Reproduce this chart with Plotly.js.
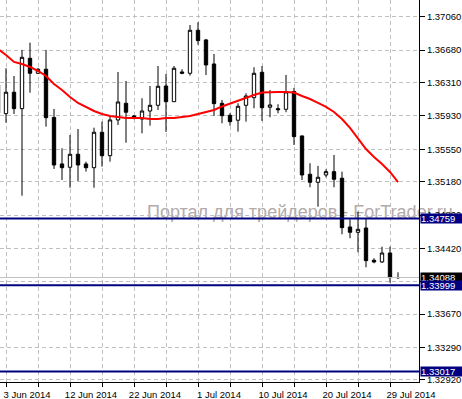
<!DOCTYPE html>
<html><head><meta charset="utf-8">
<script src="https://cdn.plot.ly/plotly-3.0.1.min.js"></script>
<style>html,body{margin:0;padding:0;background:#fff}#chart{width:462px;height:399px}</style>
</head><body><div id="chart"></div>
<script>
const dates = ['2014-06-02','2014-06-03','2014-06-04','2014-06-05','2014-06-06','2014-06-08','2014-06-09','2014-06-10','2014-06-11','2014-06-12','2014-06-13','2014-06-15','2014-06-16','2014-06-17','2014-06-18','2014-06-19','2014-06-20','2014-06-22','2014-06-23','2014-06-24','2014-06-25','2014-06-26','2014-06-27','2014-06-29','2014-06-30','2014-07-01','2014-07-02','2014-07-03','2014-07-04','2014-07-06','2014-07-07','2014-07-08','2014-07-09','2014-07-10','2014-07-11','2014-07-13','2014-07-14','2014-07-15','2014-07-16','2014-07-17','2014-07-18','2014-07-20','2014-07-21','2014-07-22','2014-07-23','2014-07-24','2014-07-25','2014-07-27','2014-07-28','2014-07-29','2014-07-30'];
const open  = [1.36282,1.35955,1.36199,1.36012,1.36586,1.36415,1.36461,1.35912,1.35382,1.35344,1.35492,1.35382,1.35339,1.35743,1.35476,1.35883,1.36073,1.35929,1.35894,1.35985,1.36050,1.36270,1.36091,1.36430,1.36415,1.36905,1.36795,1.36521,1.36073,1.35936,1.35880,1.36050,1.36137,1.36426,1.36028,1.36012,1.36005,1.36208,1.35701,1.35264,1.35173,1.35256,1.35294,1.35219,1.34664,1.34603,1.34652,1.34284,1.34265,1.34367,1.34086];
const high  = [1.36305,1.36472,1.36384,1.36681,1.36764,1.36475,1.36681,1.36008,1.35560,1.35712,1.35780,1.35408,1.35795,1.35864,1.35940,1.36430,1.36327,1.35937,1.36130,1.36270,1.36498,1.36407,1.36498,1.36461,1.36965,1.36996,1.36806,1.36635,1.36111,1.35959,1.36073,1.36187,1.36483,1.36498,1.36225,1.36062,1.36396,1.36248,1.35705,1.35390,1.35359,1.35321,1.35484,1.35294,1.34751,1.34838,1.34763,1.34307,1.34439,1.34439,1.34147];
const low   = [1.35940,1.35852,1.35951,1.35020,1.36194,1.36407,1.35807,1.35325,1.35199,1.35111,1.35188,1.35294,1.35111,1.35351,1.35408,1.35826,1.35624,1.35891,1.35731,1.35818,1.35997,1.35746,1.36088,1.36404,1.36388,1.36741,1.36396,1.35929,1.35845,1.35818,1.35750,1.35864,1.36016,1.35872,1.35914,1.35959,1.35971,1.35598,1.35199,1.35116,1.34895,1.35230,1.35116,1.34580,1.34535,1.34375,1.34204,1.34250,1.34253,1.34029,1.34071];
const close = [1.35963,1.36199,1.36012,1.36597,1.36415,1.36461,1.35909,1.35370,1.35339,1.35492,1.35370,1.35339,1.35743,1.35476,1.35883,1.36088,1.35971,1.35902,1.35985,1.36050,1.36267,1.36091,1.36472,1.36415,1.36905,1.36787,1.36510,1.36069,1.35932,1.35864,1.36039,1.36156,1.36415,1.36023,1.36054,1.36000,1.36202,1.35693,1.35256,1.35173,1.35230,1.35294,1.35207,1.34656,1.34603,1.34637,1.34280,1.34265,1.34367,1.34086,1.34088];
const maValues = [1.36692,1.36624,1.36544,1.36521,1.36487,1.36441,1.36384,1.36293,1.36225,1.36145,1.36077,1.36031,1.35985,1.35951,1.35929,1.35917,1.35906,1.35906,1.35906,1.35894,1.35894,1.35906,1.35906,1.35917,1.35929,1.35951,1.35974,1.35997,1.36037,1.36071,1.36105,1.36139,1.36168,1.36196,1.36202,1.36202,1.36202,1.36196,1.36156,1.36122,1.36077,1.36031,1.35974,1.35894,1.35792,1.35666,1.35552,1.35461,1.35382,1.35290,1.35176];
const priceTicks = [1.37060,1.36680,1.36310,1.35930,1.35550,1.35180,1.34800,1.34420,1.34040,1.33670,1.33290,1.32920];
const levels = [1.34759, 1.33999, 1.33017];
const bidPrice = 1.34088;
const watermark = 'Портал для трейдеров - ForTrader.ru';
const monthNames = {'06':'Jun','07':'Jul'};

const FONT = 'Liberation Sans, Arial, sans-serif';
const gridTickVals = dates.filter((d,i)=> i % 4 === 1);
const gridTickText = dates.map((d,i)=> i).filter(i=> i % 4 === 1).map(i=>{
  if (i % 8 !== 1) return '';
  const p = dates[i].split('-');
  return (+p[2]) + ' ' + monthNames[p[1]] + ' ' + p[0];
});

const traces = [
  {type:'candlestick', x:dates, open:open, high:high, low:low, close:close,
   increasing:{line:{color:'#000', width:1}, fillcolor:'#fff'},
   decreasing:{line:{color:'#000', width:1}, fillcolor:'#000'},
   whiskerwidth:0, hoverinfo:'skip', showlegend:false},
  {type:'scatter', mode:'lines', x:dates, y:maValues,
   line:{color:'#ff0000', width:2}, hoverinfo:'skip', showlegend:false}
];

const shapes = [
  {type:'rect', xref:'paper', yref:'paper', x0:144/419, x1:1.15, y0:(382-217)/382, y1:(382-203)/382,
   line:{width:0}, fillcolor:'rgba(0,0,0,0)', layer:'below',
   label:{text:watermark, textposition:'middle left', padding:0,
          font:{family:FONT, size:18, color:'#b4aaaa'}}},
  {type:'line', xref:'paper', yref:'y', x0:0, x1:1, y0:bidPrice, y1:bidPrice,
   line:{color:'#c0c0c0', width:1}}
].concat(levels.map(v=>({type:'line', xref:'paper', yref:'y', x0:0, x1:1, y0:v, y1:v,
   line:{color:'#000080', width:2}})));

const annotations = [{xref:'paper', yref:'y', x:1, y:bidPrice, xanchor:'left', xshift:1,
   text:bidPrice.toFixed(5), showarrow:false, bgcolor:'#000', borderpad:0, width:41, height:9, align:'left',
   font:{family:FONT, size:9.5, color:'#fff'}}]
 .concat(levels.map(v=>({xref:'paper', yref:'y', x:1, y:v, xanchor:'left', xshift:1,
   text:v.toFixed(5), showarrow:false, bgcolor:'#000080', borderpad:0, width:41, height:9, align:'left',
   font:{family:FONT, size:9.5, color:'#fff'}})));

const layout = {
  width:462, height:399,
  margin:{l:0, r:43, t:0, b:17},
  paper_bgcolor:'#fff', plot_bgcolor:'#fff',
  showlegend:false, boxgap:0.4,
  font:{family:FONT, size:9.5, color:'#000'},
  xaxis:{type:'category', range:[0.25, 52.625], rangeslider:{visible:false},
    tickmode:'array', tickvals:gridTickVals, ticktext:gridTickText, tickangle:0,
    ticks:'outside', ticklen:4, tickcolor:'#000', ticklabelshift:21, ticklabelstandoff:0,
    showline:true, linecolor:'#000', linewidth:1,
    showgrid:true, gridcolor:'#c0c0c0', griddash:'4px,3px', gridwidth:1,
    zeroline:false, automargin:false, fixedrange:true,
    tickfont:{family:FONT, size:9.5, color:'#000'}},
  yaxis:{side:'right', range:[1.32897, 1.37250],
    tickmode:'array', tickvals:priceTicks, ticktext:priceTicks.map(v=>v.toFixed(5)),
    ticks:'outside', ticklen:5, tickcolor:'#000',
    showline:true, linecolor:'#000', linewidth:1,
    showgrid:true, gridcolor:'#c0c0c0', griddash:'4px,3px', gridwidth:1,
    zeroline:false, automargin:false, fixedrange:true,
    tickfont:{family:FONT, size:9.5, color:'#000'}},
  shapes:shapes, annotations:annotations
};

Plotly.newPlot('chart', traces, layout, {staticPlot:true, displayModeBar:false});
</script>
</body></html>
